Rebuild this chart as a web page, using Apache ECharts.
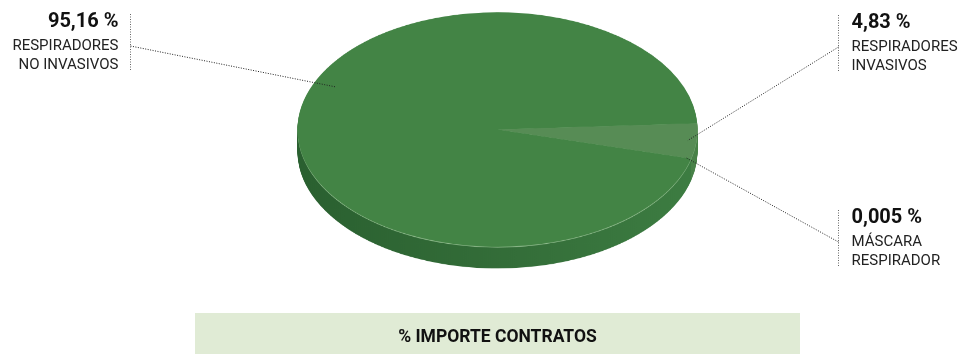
<!DOCTYPE html>
<html>
<head>
<meta charset="utf-8">
<script src="https://cdn.jsdelivr.net/npm/echarts@6/dist/echarts.min.js"></script>
<style>
  html, body { margin: 0; padding: 0; background: #fff; }
  #wrap { position: relative; width: 958px; height: 354px; overflow: hidden; }
  #pie { position: absolute; left: 0; top: 0; width: 958px; height: 480px;
         transform: scaleY(0.586); transform-origin: 0 0; }
  #overlay { position: absolute; left: 0; top: 0; width: 958px; height: 354px; }
</style>
</head>
<body>
<div id="wrap">
  <div id="pie"></div>
  <div id="overlay"></div>
</div>
<script>
// Share of contract amount by product type (percent)
const categories = ['RESPIRADORES\nINVASIVOS', 'MÁSCARA\nRESPIRADOR', 'RESPIRADORES\nNO INVASIVOS'];
const shares = [4.83, 0.005, 95.16];
const footerTitle = '% IMPORTE CONTRATOS';

// Colours of the top face per slice
const topColors = ['#578c55', '#6a9a68', '#438445'];
const FONT = "Roboto, 'DejaVu Sans Condensed', sans-serif";

// Pie geometry (unsquashed canvas space); the container is squashed vertically
const SQUASH = 0.586;
const CX = 497.5, CY = 221, R = 200, DEPTH = 37, START = 3;

const sideGradient = {
  type: 'linear', global: true, x: CX - R, y: 0, x2: CX + R, y2: 0,
  colorStops: [
    { offset: 0, color: '#2a6030' },
    { offset: 0.55, color: '#346e39' },
    { offset: 1, color: '#3d7d42' }
  ]
};
const sideColors = [ '#4a8349', '#4a8349', sideGradient ];

function pieLayer(dy, colors, z) {
  return {
    type: 'pie', z: z, silent: true, animation: false,
    center: [CX, CY + dy], radius: R, startAngle: START, clockwise: true,
    label: { show: false }, labelLine: { show: false },
    emphasis: { disabled: true },
    itemStyle: { borderWidth: 0 },
    data: shares.map((v, i) => ({ value: v, name: categories[i],
      itemStyle: { color: colors[i] } }))
  };
}

const pieSeries = [];
// Rim (side wall), drawn from the bottom up
for (let d = DEPTH; d >= 2; d--) pieSeries.push(pieLayer(d, sideColors, 1));
// Thin highlight along the front edge of the top face
pieSeries.push(pieLayer(1.4, ['#8db98b', '#8db98b', '#8db98b'], 2));
// Top face
pieSeries.push(pieLayer(0, topColors, 3));

const pieChart = echarts.init(document.getElementById('pie'), null, { renderer: 'canvas' });
pieChart.setOption({ animation: false, series: pieSeries });

// ---- Labels, leader lines and footer ----
const ov = echarts.init(document.getElementById('overlay'), null, { renderer: 'canvas' });
const total = shares.reduce((a, b) => a + b, 0);

// Screen-space ellipse of the top face
const ex = CX, ey = CY * SQUASH, rx = R, ry = R * SQUASH;
// Angular range of each slice (degrees, counter-clockwise from 3 o'clock)
let acc = START;
const ranges = shares.map(v => { const a0 = acc; acc -= v / total * 360; return [a0, acc]; });

// Where each leader line touches the pie: position along the slice and depth into it
const anchors = [ { t: 0.5, f: 0.955 }, { t: 0.5, f: 0.975 }, { t: 0.554, f: 0.886 } ];
// Label blocks: side, x of dotted bar, top y of block, y where the leader joins
const blocks = [
  { side: 'right', bar: 838.5, top: 15, joint: 47 },
  { side: 'right', bar: 838.5, top: 210, joint: 242 },
  { side: 'left',  bar: 130.5, top: 14, joint: 46 }
];

function fmt(v) { return String(v).replace('.', ',') + ' %'; }

const graphics = [];
shares.forEach((v, i) => {
  const [a0, a1] = ranges[i];
  const ang = (a0 + (a1 - a0) * anchors[i].t) * Math.PI / 180;
  const px = ex + rx * anchors[i].f * Math.cos(ang);
  const py = ey - ry * anchors[i].f * Math.sin(ang);
  const b = blocks[i];
  const dotted = { stroke: '#222', lineWidth: 1, lineDash: [1, 1.5] };
  graphics.push({ type: 'line', z: 1, shape: { x1: b.bar, y1: b.top, x2: b.bar, y2: b.top + 57 }, style: Object.assign({}, dotted, { stroke: '#666' }) });
  graphics.push({ type: 'line', z: 1, shape: { x1: b.bar, y1: b.joint, x2: px, y2: py }, style: dotted });
  const tx = b.side === 'left' ? b.bar - 12 : b.bar + 13;
  const align = b.side === 'left' ? 'right' : 'left';
  graphics.push({ type: 'text', z: 2, x: tx, y: b.top - 2, style: {
    text: fmt(v), font: 'bold 20px ' + FONT, fill: '#111', align: align, verticalAlign: 'top' } });
  graphics.push({ type: 'text', z: 2, x: tx, y: b.top + 23, style: {
    text: categories[i], font: '15px ' + FONT, lineHeight: 19, fill: '#222', align: align, verticalAlign: 'top' } });
});

// Footer band with the chart title
graphics.push({ type: 'rect', z: 0, shape: { x: 195, y: 313, width: 605, height: 41 }, style: { fill: '#e0ebd5' } });
graphics.push({ type: 'text', z: 2, x: 497.5, y: 338, style: {
  text: footerTitle, font: 'bold 17.5px ' + FONT, fill: '#111', align: 'center', verticalAlign: 'middle' } });

ov.setOption({ animation: false, graphic: graphics });
</script>
</body>
</html>
